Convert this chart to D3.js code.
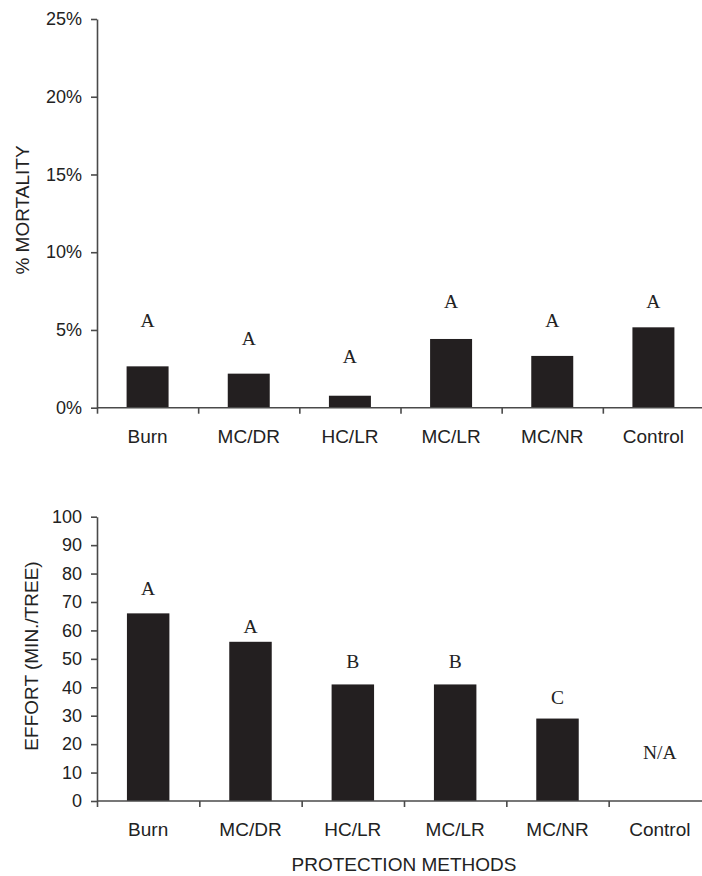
<!DOCTYPE html>
<html>
<head>
<meta charset="utf-8">
<script src="https://cdn.jsdelivr.net/npm/d3@7"></script>
<style>
  html, body { margin: 0; padding: 0; background: #fff; }
  svg { display: block; }
</style>
</head>
<body>
<svg id="chart" width="702" height="876"></svg>
<script>
// ---------- data ----------
const categories = ["Burn", "MC/DR", "HC/LR", "MC/LR", "MC/NR", "Control"];

const mortality = [0.0266, 0.0219, 0.0077, 0.0442, 0.0333, 0.0517];
const mortalityLetters = ["A", "A", "A", "A", "A", "A"];
const mortalityLetterAt = [0.0521, 0.0403, 0.0286, 0.0642, 0.0521, 0.0642];
const mortalityTicks = [0, 0.05, 0.10, 0.15, 0.20, 0.25];

const effort = [66, 56, 41, 41, 29, null];
const effortLetters = ["A", "A", "B", "B", "C", "N/A"];
const effortLetterAt = [72.4, 59.2, 46.9, 46.9, 34.2, 14.7];
const effortTicks = [0, 10, 20, 30, 40, 50, 60, 70, 80, 90, 100];

const topYTitle = "% MORTALITY";
const bottomYTitle = "EFFORT (MIN./TREE)";
const xTitle = "PROTECTION METHODS";

// ---------- drawing ----------
const svg = d3.select("#chart");
const sans = "'Liberation Sans', Arial, Helvetica, sans-serif";
const serif = "'Liberation Serif', 'Times New Roman', serif";
const axisColor = "#4a4a4a";
const textColor = "#222";
const barColor = "#231f20";

function panel(opts) {
  const g = svg.append("g");
  const x = d3.scaleBand().domain(categories).range([opts.x0, opts.x1]).padding(0);
  const xEdge = d3.scaleLinear().domain([0, categories.length]).range([opts.x0, opts.x1]);
  const y = d3.scaleLinear().domain(opts.domain).range([opts.yBottom, opts.yTop]);
  const barW = x.bandwidth() * 0.415;

  // bars
  g.selectAll("rect.bar")
    .data(categories.map((c, i) => ({ c, v: opts.values[i] })).filter(d => d.v != null))
    .join("rect")
    .attr("class", "bar")
    .attr("x", d => x(d.c) + x.bandwidth() / 2 - barW / 2)
    .attr("width", barW)
    .attr("y", d => y(d.v))
    .attr("height", d => y(0) - y(d.v))
    .attr("fill", barColor);

  // y axis
  const yAxis = d3.axisLeft(y)
    .tickValues(opts.ticks)
    .tickFormat(opts.fmt)
    .tickSize(6)
    .tickSizeOuter(0)
    .tickPadding(9);
  const ya = g.append("g").attr("transform", `translate(${opts.x0},0)`).call(yAxis);
  ya.select(".domain").attr("stroke", axisColor).attr("stroke-width", 1.6);
  ya.selectAll(".tick line").attr("stroke", axisColor).attr("stroke-width", 1.6);
  ya.selectAll(".tick text")
    .attr("fill", textColor)
    .style("font-family", sans)
    .style("font-size", "18px");

  // x axis line + boundary ticks
  const xTickAxis = d3.axisBottom(xEdge)
    .tickValues(d3.range(0, categories.length))
    .tickFormat("")
    .tickSize(6)
    .tickSizeOuter(0);
  const xa = g.append("g").attr("transform", `translate(0,${y(0)})`).call(xTickAxis);
  xa.select(".domain").remove();
  xa.selectAll(".tick line").attr("stroke", axisColor).attr("stroke-width", 1.6);
  g.append("line")
    .attr("x1", opts.x0).attr("x2", 702)
    .attr("y1", y(0)).attr("y2", y(0))
    .attr("stroke", axisColor).attr("stroke-width", 1.6);

  // category labels
  const xLab = d3.axisBottom(x).tickSize(0).tickPadding(opts.labelPad);
  const xl = g.append("g").attr("transform", `translate(0,${y(0)})`).call(xLab);
  xl.select(".domain").remove();
  xl.selectAll(".tick text")
    .attr("fill", textColor)
    .style("font-family", sans)
    .style("font-size", "19px");

  // significance letters
  g.selectAll("text.letter")
    .data(categories.map((c, i) => ({ c, t: opts.letters[i], at: opts.letterAt[i] })))
    .join("text")
    .attr("class", "letter")
    .attr("x", d => x(d.c) + x.bandwidth() / 2)
    .attr("y", d => y(d.at))
    .attr("text-anchor", "middle")
    .attr("fill", textColor)
    .style("font-family", serif)
    .style("font-size", "19.5px")
    .text(d => d.t);

  // y title
  g.append("text")
    .attr("transform", `translate(${opts.titleX},${opts.titleY}) rotate(-90)`)
    .attr("text-anchor", "middle")
    .attr("dy", "0.35em")
    .attr("fill", textColor)
    .style("font-family", sans)
    .style("font-size", "19px")
    .text(opts.title);

  return { x, y };
}

panel({
  x0: 97, x1: 704,
  yTop: 19, yBottom: 407.7,
  domain: [0, 0.25],
  ticks: mortalityTicks,
  fmt: d3.format(".0%"),
  values: mortality,
  letters: mortalityLetters,
  letterAt: mortalityLetterAt,
  labelPad: 22,
  title: topYTitle,
  titleX: 22.5, titleY: 210
});

panel({
  x0: 97, x1: 711,
  yTop: 516.7, yBottom: 801,
  domain: [0, 100],
  ticks: effortTicks,
  fmt: d3.format("d"),
  values: effort,
  letters: effortLetters,
  letterAt: effortLetterAt,
  labelPad: 21.5,
  title: bottomYTitle,
  titleX: 31, titleY: 656
});

svg.append("text")
  .attr("x", 404)
  .attr("y", 871)
  .attr("text-anchor", "middle")
  .attr("fill", textColor)
  .style("font-family", sans)
  .style("font-size", "19px")
  .text(xTitle);
</script>
</body>
</html>
